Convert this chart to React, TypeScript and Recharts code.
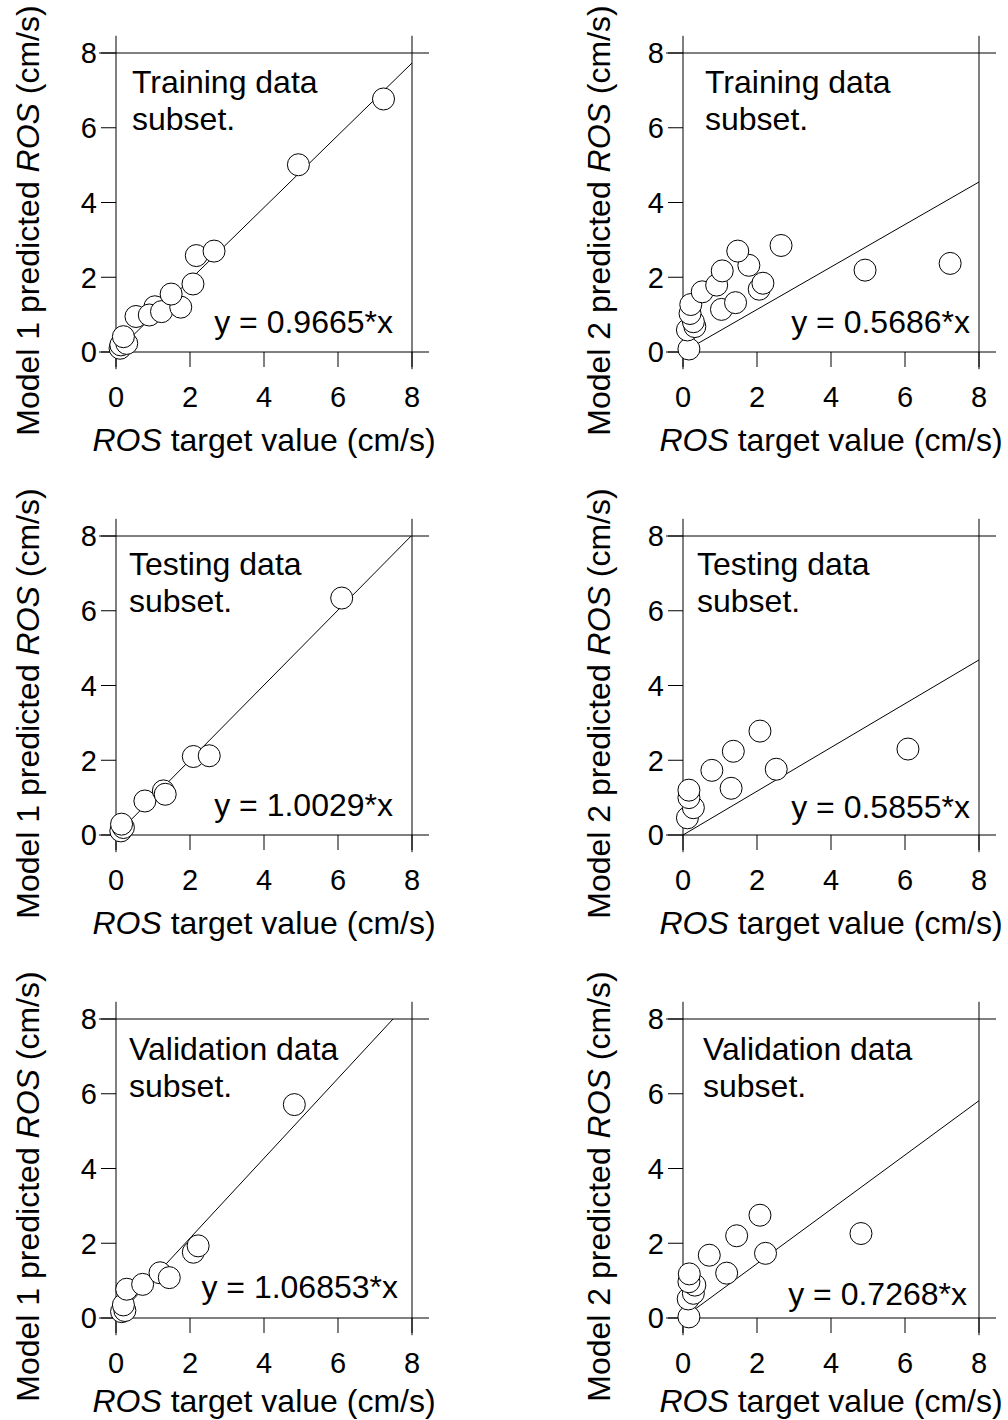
import React from 'react';
import { ScatterChart, Scatter, XAxis, YAxis, ReferenceLine, ReferenceDot } from 'recharts';

const FONT = '"Liberation Sans", Arial, Helvetica, sans-serif';
const axisTicks = [0, 2, 4, 6, 8];

// Model 1, training subset
const train1Target = [0.11, 0.13, 0.29, 0.2, 0.54, 1.05, 0.9, 1.23, 1.75, 1.49, 2.08, 2.17, 2.65, 4.93, 7.23];
const train1Pred = [0.1, 0.19, 0.23, 0.41, 0.95, 1.21, 0.99, 1.08, 1.2, 1.55, 1.82, 2.58, 2.7, 5.01, 6.77];

// Model 2, training subset
const train2Target = [0.16, 0.12, 0.32, 0.28, 0.19, 0.21, 0.52, 0.91, 1.04, 1.42, 1.06, 2.06, 2.16, 1.78, 1.48, 2.65, 4.92, 7.22];
const train2Pred = [0.08, 0.59, 0.68, 0.81, 1.03, 1.27, 1.61, 1.79, 1.14, 1.32, 2.17, 1.68, 1.84, 2.32, 2.7, 2.85, 2.19, 2.37];

// Model 1, testing subset
const test1Target = [0.13, 0.2, 0.15, 0.78, 1.28, 1.33, 2.09, 2.52, 6.1];
const test1Pred = [0.11, 0.2, 0.29, 0.91, 1.18, 1.09, 2.1, 2.12, 6.34];

// Model 2, testing subset
const test2Target = [0.12, 0.28, 0.16, 0.16, 0.78, 1.3, 1.36, 2.52, 2.08, 6.08];
const test2Pred = [0.46, 0.73, 1.0, 1.2, 1.73, 1.25, 2.24, 1.76, 2.78, 2.3];

// Model 1, validation subset
const valid1Target = [0.15, 0.24, 0.2, 0.29, 0.72, 1.19, 1.44, 2.09, 2.22, 4.82];
const valid1Pred = [0.17, 0.2, 0.35, 0.77, 0.9, 1.21, 1.08, 1.76, 1.93, 5.71];

// Model 2, validation subset
const valid2Target = [0.16, 0.14, 0.28, 0.32, 0.16, 0.17, 0.71, 1.18, 1.45, 2.23, 2.08, 4.81];
const valid2Pred = [0.03, 0.51, 0.66, 0.88, 0.97, 1.18, 1.68, 1.2, 2.2, 1.73, 2.75, 2.26];

const fitSlopes = [0.9665, 0.5686, 1.0029, 0.5855, 1.06853, 0.7268];
const subsetNames = ['Training', 'Training', 'Testing', 'Testing', 'Validation', 'Validation'];

const panels = [
  { left: 0, top: 0, model: 1, target: train1Target, pred: train1Pred, note: [16, 40], eq: [19, 19], yt: 88, xt: 99 },
  { left: 567, top: 0, model: 2, target: train2Target, pred: train2Pred, note: [22, 40], eq: [9, 19], yt: 84, xt: 99 },
  { left: 0, top: 483, model: 1, target: test1Target, pred: test1Pred, note: [13, 39], eq: [19, 19], yt: 88, xt: 99 },
  { left: 567, top: 483, model: 2, target: test2Target, pred: test2Pred, note: [14, 39], eq: [9, 17], yt: 84, xt: 99 },
  { left: 0, top: 966, model: 1, target: valid1Target, pred: valid1Pred, note: [13, 41], eq: [14, 20], yt: 88, xt: 94 },
  { left: 567, top: 966, model: 2, target: valid2Target, pred: valid2Pred, note: [20, 41], eq: [12, 13], yt: 84, xt: 94 },
];

const EXT = 0.46; // how far the frame lines run past the box
const BIG = 32;

const Circle = (props: any) => (
  <circle cx={props.cx} cy={props.cy} r={11} fill="#fff" stroke="#000" strokeWidth={1} />
);

const XTitle = (props: any) => {
  const { x, y, width } = props.viewBox;
  return (
    <text x={x + width / 2} y={y + props.off} textAnchor="middle" fontSize={BIG} fontFamily={FONT} fill="#000">
      <tspan fontStyle="italic">ROS</tspan>
      <tspan> target value (cm/s)</tspan>
    </text>
  );
};

const YTitle = (props: any) => {
  const { x, y, width, height } = props.viewBox;
  const cx = x + width - props.off;
  const cy = y + height / 2 + 18;
  return (
    <text
      x={cx}
      y={cy}
      transform={`rotate(-90, ${cx}, ${cy})`}
      textAnchor="middle"
      dominantBaseline="central"
      fontSize={BIG}
      fontFamily={FONT}
      fill="#000"
    >
      <tspan>Model {props.model} predicted </tspan>
      <tspan fontStyle="italic">ROS</tspan>
      <tspan> (cm/s)</tspan>
    </text>
  );
};

function Panel({ idx }: { idx: number }) {
  const cfg = panels[idx];
  const slope = fitSlopes[idx];
  const pts = cfg.target.map((x, i) => ({ x, y: cfg.pred[i] }));
  const xEnd = Math.min(8, 8 / slope);
  const fit = [{ x: 0, y: 0 }, { x: xEnd, y: slope * xEnd }];
  const tickStyle = { fontSize: 29, fill: '#000', fontFamily: FONT };

  return (
    <div style={{ position: 'absolute', left: cfg.left, top: cfg.top }}>
      <ScatterChart width={440} height={470} margin={{ top: 38, right: 0, bottom: 0, left: 0 }}>
        <XAxis
          type="number"
          dataKey="x"
          domain={[0, 8]}
          ticks={axisTicks}
          height={118}
          tickSize={15}
          tickMargin={19}
          axisLine={false}
          tickLine={{ stroke: '#000' }}
          tick={tickStyle}
          label={(p: any) => <XTitle viewBox={p.viewBox} off={cfg.xt} />}
        />
        <XAxis
          xAxisId="top"
          orientation="top"
          type="number"
          domain={[0, 8]}
          ticks={axisTicks}
          height={15}
          tickSize={15}
          axisLine={false}
          tickLine={{ stroke: '#000' }}
          tick={false}
        />
        <YAxis
          type="number"
          dataKey="y"
          domain={[0, 8]}
          ticks={axisTicks}
          width={116}
          tickSize={15}
          tickMargin={4}
          axisLine={false}
          tickLine={{ stroke: '#000' }}
          tick={tickStyle}
          label={(p: any) => <YTitle viewBox={p.viewBox} model={cfg.model} off={cfg.yt} />}
        />
        <YAxis
          yAxisId="right"
          orientation="right"
          type="number"
          domain={[0, 8]}
          ticks={axisTicks}
          width={28}
          tickSize={15}
          axisLine={false}
          tickLine={{ stroke: '#000' }}
          tick={false}
        />
        <ReferenceLine segment={[{ x: -EXT, y: 0 }, { x: 8 + EXT, y: 0 }]} stroke="#000" ifOverflow="visible" />
        <ReferenceLine segment={[{ x: -EXT, y: 8 }, { x: 8 + EXT, y: 8 }]} stroke="#000" ifOverflow="visible" />
        <ReferenceLine segment={[{ x: 0, y: -EXT }, { x: 0, y: 8 + EXT }]} stroke="#000" ifOverflow="visible" />
        <ReferenceLine segment={[{ x: 8, y: -EXT }, { x: 8, y: 8 + EXT }]} stroke="#000" ifOverflow="visible" />
        <Scatter
          data={fit}
          line={{ stroke: '#000', strokeWidth: 1 }}
          shape={() => <g />}
          legendType="none"
          isAnimationActive={false}
        />
        <Scatter data={pts} shape={Circle} isAnimationActive={false} />
        <ReferenceDot
          x={0}
          y={8}
          r={0}
          ifOverflow="visible"
          shape={(p: any) => (
            <text x={p.cx + cfg.note[0]} y={p.cy + cfg.note[1]} fontSize={BIG} fontFamily={FONT} fill="#000">
              <tspan x={p.cx + cfg.note[0]}>{subsetNames[idx]} data</tspan>
              <tspan x={p.cx + cfg.note[0]} dy={37}>subset.</tspan>
            </text>
          )}
        />
        <ReferenceDot
          x={8}
          y={0}
          r={0}
          ifOverflow="visible"
          shape={(p: any) => (
            <text x={p.cx - cfg.eq[0]} y={p.cy - cfg.eq[1]} textAnchor="end" fontSize={BIG} fontFamily={FONT} fill="#000">
              {`y = ${slope}*x`}
            </text>
          )}
        />
      </ScatterChart>
    </div>
  );
}

export default function App() {
  return (
    <div style={{ position: 'absolute', left: 0, top: 0, width: 1008, height: 1420, overflow: 'hidden', background: '#fff' }}>
      {panels.map((_, i) => (
        <Panel key={i} idx={i} />
      ))}
    </div>
  );
}
